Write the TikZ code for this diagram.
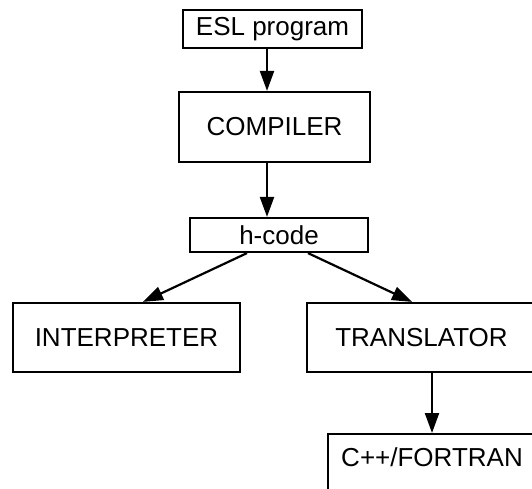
\documentclass[tikz,border=0pt]{standalone}
\usepackage{fontspec}
\setmainfont{Liberation Sans}
\usetikzlibrary{arrows.meta}
\begin{document}
\begin{tikzpicture}[x=1pt,y=-1pt,
  box/.style={draw, line width=2.2pt, inner sep=0pt, font=\fontsize{26}{30}\selectfont},
  flow/.style={line width=2.2pt, -{Triangle[length=20pt,width=14pt]}}]
\useasboundingbox (0,0) rectangle (532,489);
\clip (0,0) rectangle (532,489);
% process boxes
\node[box, minimum width=179pt, minimum height=38pt] (esl) at (272.5,29) {ESL program};
\node[box, minimum width=191pt, minimum height=70pt] (comp) at (274.5,127) {COMPILER};
\node[box, minimum width=178pt, minimum height=34pt] (hcode) at (279,235) {h-code};
\node[box, minimum width=227pt, minimum height=69pt] (interp) at (126.5,337.5) {INTERPRETER};
\node[box, minimum width=229pt, minimum height=69pt] (trans) at (421.5,337.5) {TRANSLATOR};
% output box runs past the picture edge; its label sits near the top
\node[box, minimum width=210pt, minimum height=70pt, anchor=north west] (cpp) at (327,433) {};
\node[font=\fontsize{26}{30}\selectfont, inner sep=0pt] (cpplabel) at (432,457) {C++/FORTRAN};
% connectors
\draw[flow] (esl.south -| 267,0) -- (comp.north -| 267,0);
\draw[flow] (comp.south -| 267,0) -- (hcode.north -| 267,0);
\draw[flow] ([xshift=-32pt]hcode.south) -- ([xshift=16.5pt]interp.north);
\draw[flow] ([xshift=29pt]hcode.south) -- ([xshift=-9.5pt]trans.north);
\draw[flow] (trans.south -| cpplabel.north) -- (cpp.north -| cpplabel.north);
\end{tikzpicture}
\end{document}
